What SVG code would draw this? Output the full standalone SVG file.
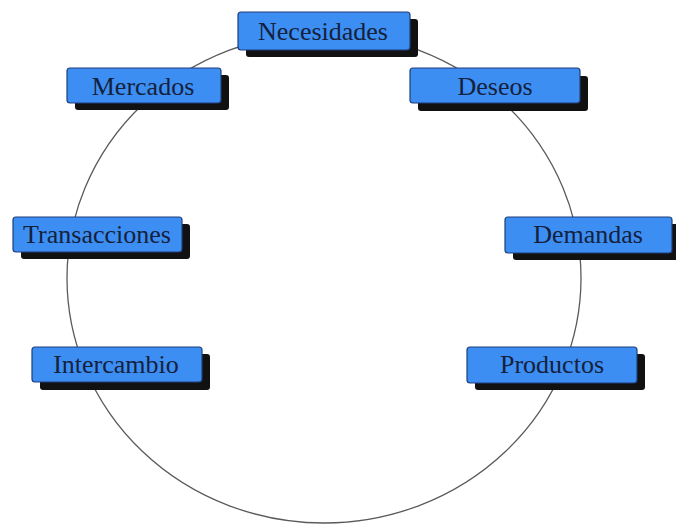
<svg xmlns="http://www.w3.org/2000/svg" width="676" height="527" viewBox="0 0 676 527">
  <style>
    .shadow { fill: #111; }
    .box { fill: #3d8ef2; stroke: #1f3f7a; stroke-width: 1.2; }
    .label { font-family: "Liberation Serif", "Times New Roman", serif; font-size: 26px; fill: #14213d; text-anchor: middle; }
    .ring { fill: none; stroke: #5a5a5a; stroke-width: 1.3; }
  </style>
  <rect width="676" height="527" fill="#ffffff"/>

  <!-- connector ring linking all concepts -->
  <g id="connectors">
    <ellipse class="ring" cx="324" cy="278" rx="257" ry="245"/>
  </g>

  <g id="necesidades">
    <rect class="shadow" x="246" y="19" width="172" height="38" rx="3"/>
    <rect class="box" x="238" y="12" width="172" height="38" rx="3"/>
    <text class="label" x="323" y="40">Necesidades</text>
  </g>

  <g id="mercados">
    <rect class="shadow" x="75" y="75" width="154" height="35" rx="3"/>
    <rect class="box" x="67" y="68" width="154" height="35" rx="3"/>
    <text class="label" x="143" y="95">Mercados</text>
  </g>

  <g id="deseos">
    <rect class="shadow" x="418" y="76" width="170" height="35" rx="3"/>
    <rect class="box" x="410" y="68" width="170" height="35" rx="3"/>
    <text class="label" x="495" y="95">Deseos</text>
  </g>

  <g id="transacciones">
    <rect class="shadow" x="21" y="224" width="169" height="35" rx="3"/>
    <rect class="box" x="13" y="217" width="169" height="35" rx="3"/>
    <text class="label" x="97" y="243">Transacciones</text>
  </g>

  <g id="demandas">
    <rect class="shadow" x="513" y="224" width="167" height="36" rx="3"/>
    <rect class="box" x="505" y="217" width="167" height="36" rx="3"/>
    <text class="label" x="588" y="243">Demandas</text>
  </g>

  <g id="intercambio">
    <rect class="shadow" x="40" y="354" width="170" height="36" rx="3"/>
    <rect class="box" x="32" y="347" width="170" height="35" rx="3"/>
    <text class="label" x="116" y="373">Intercambio</text>
  </g>

  <g id="productos">
    <rect class="shadow" x="475" y="354" width="170" height="36" rx="3"/>
    <rect class="box" x="467" y="347" width="170" height="36" rx="3"/>
    <text class="label" x="552" y="373">Productos</text>
  </g>
</svg>
